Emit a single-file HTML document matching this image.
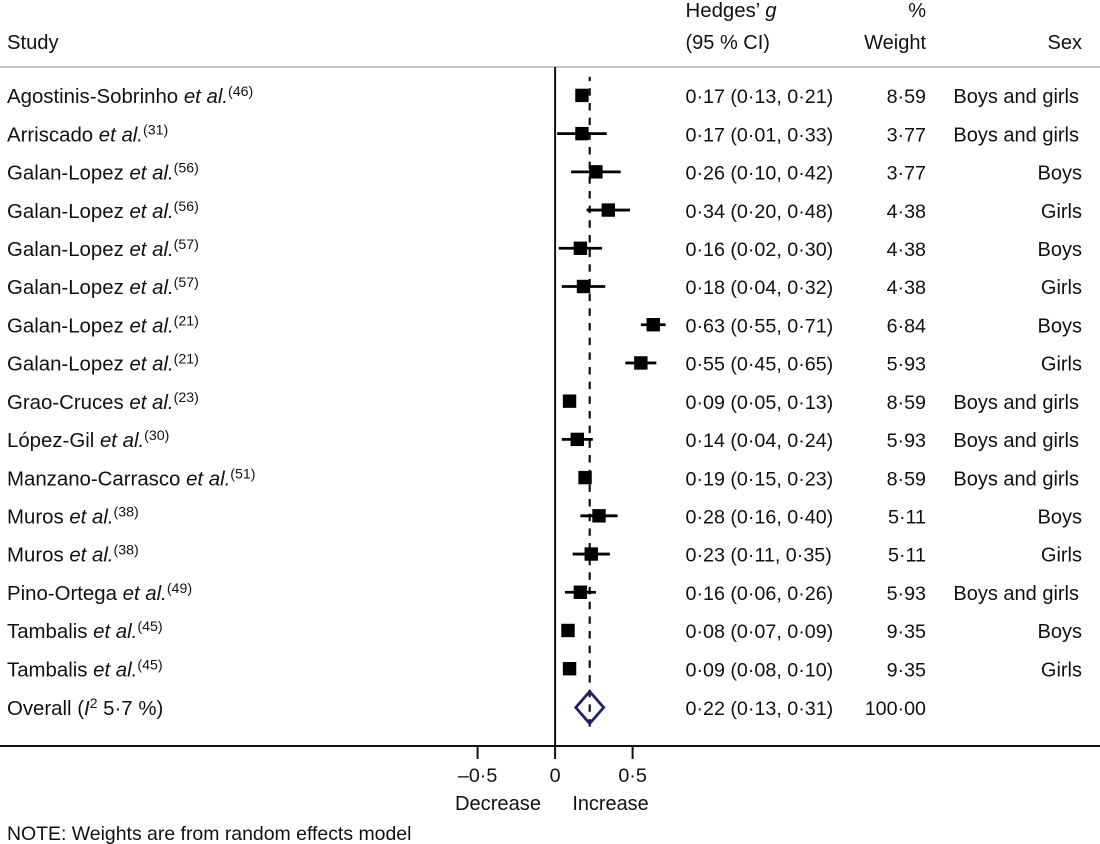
<!DOCTYPE html>
<html><head><meta charset="utf-8"><title>Forest plot</title>
<style>
html,body{margin:0;padding:0;background:#fff}
svg{display:block}
text{font-family:"Liberation Sans",sans-serif;font-size:19.7px;fill:#111}
</style></head>
<body>
<svg id="chart" xmlns="http://www.w3.org/2000/svg" width="1100" height="844" viewBox="0 0 1100 844">
<text x="685.5" y="17" font-size="20.4" style="font-size:20.4px">Hedges’ <tspan font-style="italic">g</tspan></text>
<text x="7" y="49" style="font-size:20.2px">Study</text>
<text x="685.5" y="49" style="font-size:20px">(95 % CI)</text>
<text x="926" y="17" text-anchor="end" style="font-size:20px">%</text>
<text x="926" y="49" text-anchor="end" style="font-size:20px">Weight</text>
<text x="1082" y="49" text-anchor="end" style="font-size:20px">Sex</text>
<rect x="0" y="66" width="1100" height="2" fill="#c4c4c4"/>
<rect x="0" y="745" width="1100" height="2" fill="#111"/>
<g id="plot"></g>
<text x="7" y="715" style="font-size:20.4px">Overall (<tspan font-style="italic">I</tspan><tspan style="font-size:14px" dy="-7">2</tspan><tspan dy="7"> 5·7 %)</tspan></text>
<text x="498" y="810" text-anchor="middle" style="font-size:20.1px">Decrease</text>
<text x="610.5" y="810" text-anchor="middle" style="font-size:19.9px">Increase</text>
<text x="7" y="840" style="font-size:19.45px">NOTE: Weights are from random effects model</text>
</svg>
<script>
const studies = ["Agostinis-Sobrinho","Arriscado","Galan-Lopez","Galan-Lopez","Galan-Lopez","Galan-Lopez","Galan-Lopez","Galan-Lopez","Grao-Cruces","López-Gil","Manzano-Carrasco","Muros","Muros","Pino-Ortega","Tambalis","Tambalis"];
const refs = ["46","31","56","56","57","57","21","21","23","30","51","38","38","49","45","45"];
const effects = [0.17,0.17,0.26,0.34,0.16,0.18,0.63,0.55,0.09,0.14,0.19,0.28,0.23,0.16,0.08,0.09];
const lower = [0.13,0.01,0.10,0.20,0.02,0.04,0.55,0.45,0.05,0.04,0.15,0.16,0.11,0.06,0.07,0.08];
const upper = [0.21,0.33,0.42,0.48,0.30,0.32,0.71,0.65,0.13,0.24,0.23,0.40,0.35,0.26,0.09,0.10];
const weights = [8.59,3.77,3.77,4.38,4.38,4.38,6.84,5.93,8.59,5.93,8.59,5.11,5.11,5.93,9.35,9.35];
const sexes = ["Boys and girls","Boys and girls","Boys","Girls","Boys","Girls","Boys","Girls","Boys and girls","Boys and girls","Boys and girls","Boys","Girls","Boys and girls","Boys","Girls"];
const overallEffect = 0.22;
const overallLower = 0.13;
const overallUpper = 0.31;
const overallWeight = 100;
const xTicks = [-0.5, 0, 0.5];

const NS = "http://www.w3.org/2000/svg";
const plot = document.getElementById("plot");
const xScale = v => 555.6 + v * 155;
const axisX = v => xScale(v) - 0.5;
const yScale = i => 95.4 + i * 38.22;
const dot = (v, d) => v.toFixed(d).replace(".", "·");
const ci = (e, l, u) => dot(e, 2) + " (" + dot(l, 2) + ", " + dot(u, 2) + ")";
function make(tag, attrs, text) {
  const el = document.createElementNS(NS, tag);
  for (const k in attrs) el.setAttribute(k, attrs[k]);
  if (text !== undefined) el.textContent = text;
  plot.appendChild(el);
  return el;
}

let zeroLine = make("line", {x1: axisX(0), x2: axisX(0), y1: 67, y2: 746, stroke: "#111", "stroke-width": 2});



let pooledLine = make("line", {x1: xScale(overallEffect), x2: xScale(overallEffect), y1: 76.7, y2: 726.6, stroke: "#111", "stroke-width": 2.2, "stroke-dasharray": "7.5 7.17", "stroke-dashoffset": 3.1});



studies.forEach((name, i) => {
  const y = yScale(i);
  const ty = y + 7.7;
  const label = make("text", {x: 7, y: ty, style: "font-size:20.4px"});
  
  
  label.appendChild(document.createTextNode(name + " "));
  const et = document.createElementNS(NS, "tspan");
  et.setAttribute("font-style", "italic");
  et.textContent = "et al.";
  label.appendChild(et);
  const sup = document.createElementNS(NS, "tspan");
  sup.setAttribute("style", "font-size:14.2px");
  sup.setAttribute("dy", "-7");
  sup.textContent = "(" + refs[i] + ")";
  label.appendChild(sup);

  const whisker = make("line", {x1: xScale(lower[i]), x2: xScale(upper[i]), y1: y, y2: y, stroke: "#000", "stroke-width": 2.8});
  
  

  const marker = make("rect", {x: xScale(effects[i]) - 6.7, y: y - 6.7, width: 13.4, height: 13.4, fill: "#000"});
  
  

  const ciText = make("text", {x: 685.5, y: ty}, ci(effects[i], lower[i], upper[i]));
  
  

  const wText = make("text", {x: 926, y: ty, "text-anchor": "end"}, dot(weights[i], 2));
  
  

  const both = sexes[i].length > 5;
  const sText = make("text", {x: both ? 1079 : 1082, y: ty, "text-anchor": "end", style: "font-size:20px"}, sexes[i]);
  
  
});

const oy = 707.5;
const diamond = make("polygon", {
  points: [[xScale(overallLower), oy], [xScale(overallEffect), oy - 16], [xScale(overallUpper), oy], [xScale(overallEffect), oy + 16]].map(p => p.join(",")).join(" "),
  fill: "none", stroke: "#1f1f66", "stroke-width": 2.8
});



const oText = make("text", {x: 685.5, y: oy + 7.5}, ci(overallEffect, overallLower, overallUpper));



const oWeight = make("text", {x: 926, y: oy + 7.5, "text-anchor": "end"}, dot(overallWeight, 2));



xTicks.forEach(t => {
  const tick = make("line", {x1: axisX(t), x2: axisX(t), y1: 746, y2: 759, stroke: "#111", "stroke-width": 2});
  
  
  const lab = t === 0 ? "0" : (t < 0 ? "–" : "") + dot(Math.abs(t), 1);
  const tl = make("text", {x: axisX(t), y: 782, "text-anchor": "middle"}, lab);
  
  
});
</script>
</body></html>
